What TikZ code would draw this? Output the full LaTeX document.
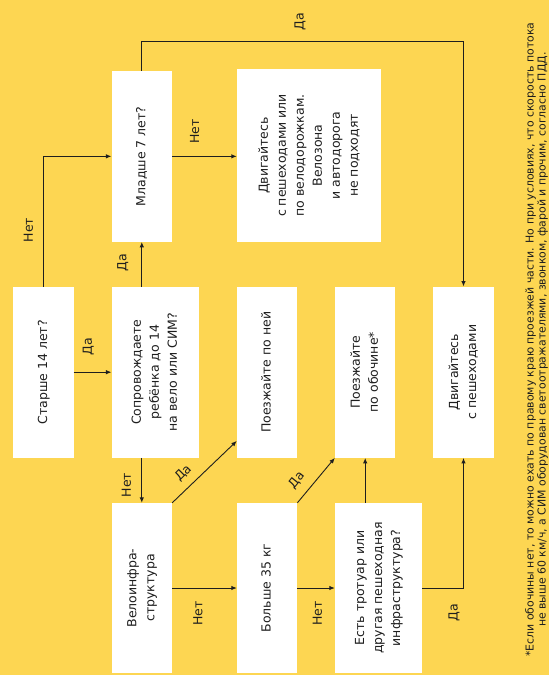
\documentclass[tikz,border=0pt]{standalone}
\usepackage{fontspec}
\setmainfont{DejaVu Sans}
\usepackage{graphicx}
\usetikzlibrary{arrows.meta,calc}
\definecolor{bg}{HTML}{FDD652}
\definecolor{ink}{HTML}{1E1E1E}
\newcommand{\rtext}[1]{\rotatebox{90}{\begin{tabular}{@{}c@{}}#1\end{tabular}}}
\begin{document}
\begin{tikzpicture}[x=1pt,y=-1pt,
  every node/.style={font=\fontsize{12.5}{18}\selectfont, text=ink},
  box/.style={fill=white, draw=none, inner sep=0pt},
  arr/.style={draw=ink, line width=0.9pt, -{Latex[length=5.5pt,width=4.5pt]}},
  lbl/.style={inner sep=0pt}]
\fill[bg] (0,0) rectangle (549,675);
\useasboundingbox (0,0) rectangle (549,675);
% boxes
\node[box, minimum width=60.2pt, minimum height=171pt] (A) at (43.4,372.2) {\rtext{Старше 14 лет?}};
\node[box, minimum width=87.4pt, minimum height=171pt] (B) at (155.3,372.2) {\rtext{Сопровождаете\\ребёнка до 14\\на вело или СИМ?}};
\node[box, minimum width=60.4pt, minimum height=170.7pt] (C) at (141.8,156.35) {\rtext{Младше 7 лет?}};
\node[box, minimum width=144.4pt, minimum height=172.4pt] (D) at (309.2,155.5) {\rtext{Двигайтесь\\с пешеходами или\\по велодорожкам.\\Велозона\\и автодорога\\не подходят}};
\node[box, minimum width=60.2pt, minimum height=171pt] (E) at (267.1,372.2) {\rtext{Поезжайте по ней}};
\node[box, minimum width=60.4pt, minimum height=171pt] (F) at (365.2,372.2) {\rtext{Поезжайте\\по обочине*}};
\node[box, minimum width=60.4pt, minimum height=171pt] (G) at (463.5,372.2) {\rtext{Двигайтесь\\с пешеходами}};
\node[box, minimum width=60.4pt, minimum height=170pt] (H) at (141.8,588) {\rtext{Велоинфра-\\структура}};
\node[box, minimum width=60.2pt, minimum height=170pt] (I) at (267.1,588) {\rtext{Больше 35 кг}};
\node[box, minimum width=87pt, minimum height=170pt] (J) at (378.5,588) {\rtext{Есть тротуар или\\другая пешеходная\\инфраструктура?}};
% connectors
\coordinate (top) at (0,41);
\draw[arr] (A.north) |- (C.west);
\draw[arr] (A.east) -- (B.west);
\draw[arr] (C.south |- B.north) -- (C.south);
\draw[arr] (C.east) -- (C.east -| D.west);
\draw[arr] (C.north) |- (top -| G.north) -- (G.north);
\draw[arr] (H.north |- B.south) -- (H.north);
\coordinate (eIn) at ($(E.south west)+(0,-17)$);
\draw[arr] (H.north east) -- (eIn);
\draw[arr] (I.north east) -- (F.south west);
\draw[arr] (H.east) -- (I.west);
\draw[arr] (I.east) -- (J.west);
\draw[arr] (F.south |- J.north) -- (F.south);
\draw[arr] (J.east) -| (G.south);
% labels
\node[lbl] (l1) at (28.3,230) {\rotatebox{90}{Нет}};
\node[lbl] (l2) at (88.3,346.7) {\rotatebox{90}{Да}};
\node[lbl] (l3) at (122.8,263) {\rotatebox{90}{Да}};
\node[lbl] (l4) at (194.7,131.7) {\rotatebox{90}{Нет}};
\node[lbl] (l5) at (300,21.7) {\rotatebox{90}{Да}};
\node[lbl] (l6) at (126.3,485) {\rotatebox{90}{Нет}};
\node[lbl] (l7) at (183.3,473.3) {\rotatebox{45}{Да}};
\node[lbl] (l8) at (296.7,480) {\rotatebox{51}{Да}};
\node[lbl] (l9) at (198,613.3) {\rotatebox{90}{Нет}};
\node[lbl] (l10) at (317.5,613.3) {\rotatebox{90}{Нет}};
\node[lbl] (l11) at (454,613) {\rotatebox{90}{Да}};
% footnote
\node[lbl] (note) at (537.4,339.7) {\rotatebox{90}{\resizebox{634pt}{!}{\fontsize{10}{11}\selectfont\begin{tabular}{@{}c@{}}*Если обочины нет, то можно ехать по правому краю проезжей части. Но при условиях, что скорость потока\\не выше 60 км/ч, а СИМ оборудован светоотражателями, звонком, фарой и прочим, согласно \underline{ПДД}.\end{tabular}}}};
\end{tikzpicture}
\end{document}
